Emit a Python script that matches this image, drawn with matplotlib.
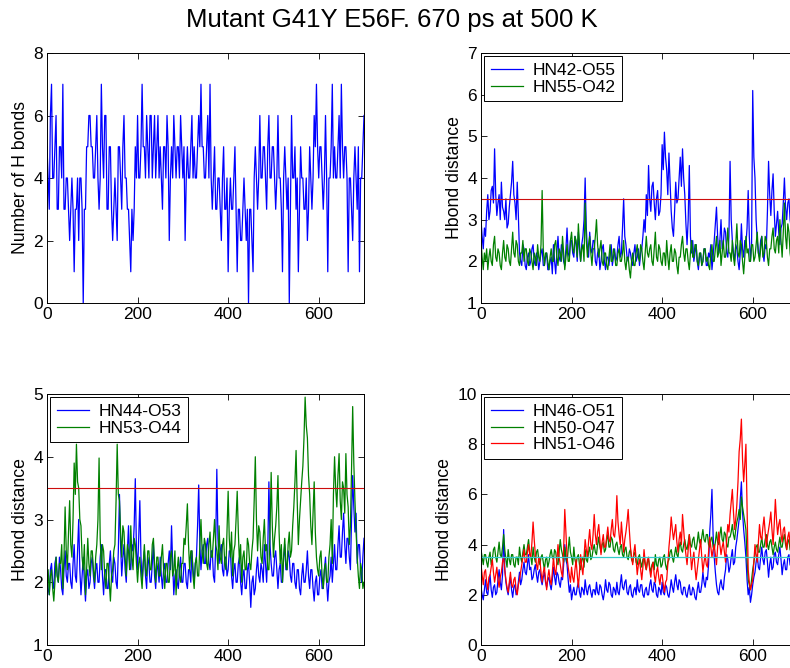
import numpy as np
import matplotlib
matplotlib.use("Agg")
import matplotlib.pyplot as plt

plt.rcParams['font.family'] = ['Liberation Sans', 'DejaVu Sans']

title = "Mutant G41Y E56F. 670 ps at 500 K"
step = 2.5  # ps between sampled values
xticks = [0, 200, 400, 600]

# Number of H bonds
hbonds = [5, 4, 3, 6, 7, 4, 4, 5, 6, 3, 3, 5, 5, 4, 7, 3, 3, 4, 4, 3,
          2, 3, 4, 3, 1, 3, 3, 4, 2, 4, 4, 3, 0, 3, 3, 5, 5, 6, 6, 5,
          5, 4, 4, 5, 6, 4, 3, 4, 7, 5, 4, 6, 6, 3, 3, 5, 5, 3, 2, 3,
          4, 3, 2, 5, 5, 4, 3, 5, 6, 4, 4, 3, 3, 2, 1, 3, 2, 3, 5, 4,
          6, 4, 4, 5, 7, 5, 5, 4, 6, 5, 4, 6, 6, 4, 5, 6, 4, 5, 6, 4,
          5, 4, 3, 5, 5, 4, 6, 5, 2, 4, 5, 4, 6, 5, 4, 5, 5, 4, 6, 5,
          4, 5, 2, 4, 5, 4, 4, 5, 6, 4, 5, 4, 4, 5, 6, 5, 7, 5, 5, 4,
          4, 5, 6, 4, 7, 4, 3, 4, 5, 3, 3, 4, 4, 3, 2, 4, 5, 3, 3, 4,
          1, 3, 4, 3, 3, 4, 5, 3, 1, 3, 3, 2, 2, 3, 4, 3, 2, 3, 0, 3,
          3, 2, 1, 4, 5, 4, 3, 4, 6, 4, 4, 5, 5, 4, 3, 5, 6, 4, 4, 5,
          5, 4, 3, 4, 6, 4, 4, 3, 1, 4, 5, 4, 3, 4, 0, 3, 6, 4, 4, 5,
          3, 4, 1, 3, 5, 4, 4, 3, 3, 4, 2, 3, 5, 4, 3, 4, 6, 5, 7, 5,
          4, 5, 5, 4, 3, 4, 6, 4, 1, 4, 4, 5, 7, 4, 5, 4, 4, 5, 6, 4,
          7, 5, 4, 5, 5, 4, 1, 4, 4, 3, 2, 4, 5, 4, 3, 5, 1, 4, 4, 5,
          6]

hn42_o55 = [3.0, 2.6, 2.3, 2.8, 2.6, 3.2, 3.6, 3.0, 3.2, 3.7, 3.8, 3.4, 4.7, 3.6, 3.1, 3.4, 3.6, 3.0, 3.9, 3.3,
            3.2, 3.0, 3.5, 2.8, 2.9, 3.3, 3.6, 3.9, 4.4, 3.6, 3.4, 3.0, 3.9, 3.1, 2.2, 2.0, 1.9, 2.4, 2.3, 1.9,
            1.8, 2.1, 2.2, 1.9, 2.0, 2.3, 2.4, 2.0, 1.9, 2.2, 2.1, 1.8, 2.0, 2.2, 2.3, 1.9, 1.9, 2.1, 2.2, 1.8,
            1.8, 2.0, 2.1, 1.7, 2.4, 2.0, 1.7, 2.2, 2.6, 2.1, 2.0, 2.4, 2.3, 2.0, 1.9, 2.3, 2.8, 2.2, 2.1, 2.5,
            2.5, 2.2, 2.1, 2.6, 2.4, 2.0, 2.7, 2.3, 2.0, 2.4, 2.6, 3.0, 4.0, 2.8, 2.3, 2.1, 2.7, 2.3, 2.2, 2.5,
            2.5, 2.0, 1.9, 2.2, 2.3, 1.8, 2.0, 2.3, 2.4, 2.0, 1.8, 2.1, 2.1, 1.9, 2.2, 2.4, 1.9, 2.1, 2.3, 2.0,
            2.1, 2.4, 2.6, 2.1, 2.2, 2.8, 3.5, 2.6, 2.4, 2.1, 2.0, 2.3, 2.2, 2.0, 1.9, 2.2, 2.4, 2.0, 2.1, 2.3,
            1.9, 2.2, 2.3, 2.6, 3.0, 2.7, 3.6, 3.1, 4.3, 3.5, 3.2, 3.8, 3.9, 3.4, 3.0, 3.5, 3.7, 3.1, 3.2, 3.6,
            4.8, 4.2, 5.1, 4.5, 4.2, 3.6, 4.6, 3.9, 3.2, 2.8, 2.6, 3.2, 3.9, 3.4, 3.5, 4.0, 4.5, 3.8, 4.7, 4.0,
            3.6, 2.9, 2.4, 3.0, 4.3, 2.6, 2.2, 2.5, 2.0, 2.2, 2.4, 2.0, 1.8, 2.1, 2.2, 1.9, 2.0, 2.3, 2.3, 1.9,
            1.9, 2.2, 2.1, 2.4, 1.8, 2.1, 2.5, 2.9, 3.3, 2.6, 2.2, 2.5, 3.0, 2.3, 2.4, 2.8, 2.7, 2.2, 2.1, 2.6,
            4.4, 3.0, 2.5, 2.2, 2.0, 2.4, 2.3, 2.0, 1.8, 2.2, 2.9, 2.3, 2.1, 2.5, 2.4, 2.8, 3.7, 2.6, 2.0, 2.4,
            6.1, 4.5, 4.0, 3.0, 2.5, 2.2, 2.1, 2.5, 2.6, 2.2, 2.0, 2.4, 2.3, 3.2, 4.4, 3.6, 3.1, 3.7, 4.1, 3.2,
            2.6, 2.9, 3.2, 2.7, 2.4, 2.8, 2.9, 3.4, 4.0, 3.3, 3.0, 3.4, 3.5, 3.0, 2.8, 3.3, 3.9, 3.4, 3.3, 3.8,
            3.6]

hn55_o42 = [2.5, 2.1, 1.8, 2.2, 2.0, 2.3, 1.8, 2.1, 2.3, 2.0, 1.9, 2.4, 2.6, 2.1, 2.0, 2.3, 2.2, 1.9, 1.8, 2.2,
            2.5, 2.1, 2.0, 2.4, 2.3, 2.0, 1.9, 2.3, 2.7, 2.2, 2.1, 2.5, 2.4, 2.0, 1.9, 2.2, 2.2, 2.5, 2.0, 2.3,
            2.3, 2.0, 1.9, 2.3, 2.2, 2.0, 1.8, 2.2, 2.1, 1.9, 2.4, 2.1, 2.0, 2.4, 3.7, 2.3, 1.9, 2.2, 2.2, 2.0,
            1.8, 2.1, 2.3, 2.0, 2.0, 2.4, 2.5, 2.1, 1.9, 2.3, 2.2, 2.0, 2.6, 2.2, 1.8, 2.1, 2.4, 2.0, 2.0, 2.5,
            2.7, 2.3, 2.2, 2.6, 2.5, 2.1, 2.9, 2.4, 2.0, 2.3, 2.4, 2.0, 3.4, 2.5, 2.1, 2.4, 2.6, 2.2, 1.9, 2.3,
            2.3, 2.6, 3.0, 2.4, 2.1, 2.3, 2.5, 2.0, 1.9, 2.2, 2.2, 1.9, 1.8, 2.1, 2.4, 2.0, 2.0, 2.3, 2.2, 1.9,
            1.9, 2.2, 2.3, 2.0, 2.0, 2.2, 2.5, 2.0, 1.8, 2.1, 2.1, 1.8, 1.6, 2.0, 2.2, 1.9, 1.9, 2.2, 2.4, 2.1,
            2.0, 2.4, 2.3, 2.0, 1.8, 2.2, 2.6, 2.2, 2.1, 2.3, 2.4, 2.0, 1.9, 2.3, 2.7, 2.1, 2.0, 2.4, 2.3, 2.0,
            1.9, 2.2, 2.2, 1.9, 2.5, 2.1, 1.8, 2.2, 2.4, 2.0, 2.0, 2.3, 2.2, 1.9, 1.7, 2.1, 2.1, 2.4, 2.6, 2.2,
            2.0, 2.3, 2.3, 2.0, 1.8, 2.2, 2.5, 2.1, 2.1, 2.4, 2.4, 2.0, 1.9, 2.2, 2.2, 1.9, 2.0, 2.3, 2.3, 2.0,
            2.1, 1.9, 1.8, 2.2, 2.4, 2.0, 2.0, 2.3, 2.6, 2.1, 2.2, 2.5, 1.9, 2.2, 2.5, 2.1, 2.1, 2.4, 2.8, 2.2,
            2.2, 2.0, 2.5, 2.1, 1.9, 2.4, 2.9, 2.2, 2.1, 2.5, 2.4, 2.0, 1.7, 2.1, 2.6, 2.2, 2.3, 2.0, 2.0, 2.4,
            2.4, 2.0, 2.1, 2.4, 2.7, 2.2, 2.0, 2.3, 2.6, 2.1, 2.2, 2.6, 2.5, 2.1, 1.9, 2.3, 2.3, 2.6, 2.8, 2.3,
            2.2, 2.5, 2.6, 2.2, 3.0, 2.5, 2.1, 2.7, 3.4, 2.6, 2.3, 2.9, 2.7, 2.2, 2.0, 2.4, 2.5, 2.1, 2.2, 2.6,
            2.4]

hn44_o53 = [2.1, 1.9, 1.8, 2.2, 2.3, 2.0, 1.9, 2.3, 2.4, 2.1, 2.0, 2.4, 2.2, 1.9, 1.8, 2.2, 2.5, 2.1, 2.0, 2.3,
            2.3, 2.0, 1.9, 2.3, 2.6, 2.1, 2.0, 2.5, 3.0, 2.2, 1.8, 2.1, 2.4, 2.0, 1.7, 2.1, 2.2, 1.9, 2.0, 2.3,
            2.4, 2.1, 1.9, 2.2, 2.3, 2.0, 2.0, 2.4, 2.6, 2.1, 1.8, 2.2, 2.2, 1.9, 1.9, 2.3, 2.5, 2.1, 2.0, 2.4,
            2.3, 2.0, 1.9, 2.5, 3.4, 2.6, 2.1, 2.4, 2.6, 2.2, 2.0, 2.5, 2.9, 2.3, 2.2, 2.6, 2.5, 2.9, 3.65, 2.5,
            2.2, 2.7, 3.3, 2.4, 2.0, 2.3, 2.5, 2.1, 1.9, 2.4, 2.3, 2.0, 2.0, 2.3, 2.6, 2.1, 1.9, 2.3, 2.2, 2.0,
            2.4, 2.1, 1.9, 2.2, 2.3, 2.0, 2.0, 2.3, 2.5, 2.2, 2.9, 2.3, 1.8, 2.1, 2.2, 2.0, 1.9, 2.2, 2.4, 2.0,
            2.0, 2.3, 2.3, 2.0, 1.9, 2.2, 2.2, 2.0, 2.5, 2.2, 2.0, 2.3, 2.4, 2.9, 3.55, 2.6, 2.2, 2.5, 2.6, 2.3,
            2.3, 2.6, 2.7, 2.3, 2.2, 2.5, 2.5, 2.1, 2.0, 2.6, 3.8, 2.7, 2.3, 2.5, 2.6, 2.2, 2.1, 2.4, 2.4, 2.1,
            2.2, 2.5, 2.5, 2.1, 1.9, 2.2, 2.3, 2.0, 2.0, 2.3, 2.4, 2.0, 1.8, 2.1, 2.2, 1.9, 1.9, 2.2, 2.3, 2.0,
            1.6, 2.0, 2.1, 1.8, 1.9, 2.2, 2.4, 2.1, 2.0, 2.3, 2.2, 2.0, 2.6, 2.3, 2.0, 2.5, 3.6, 2.6, 2.3, 2.1,
            2.1, 2.4, 2.5, 2.2, 1.9, 2.2, 2.3, 2.0, 2.0, 2.4, 2.6, 2.2, 2.2, 2.5, 2.4, 2.1, 2.0, 2.3, 2.3, 2.0,
            1.9, 2.2, 2.2, 1.9, 1.8, 2.1, 2.3, 2.0, 2.0, 2.2, 2.5, 2.1, 1.9, 2.2, 2.2, 1.9, 1.7, 2.0, 2.1, 1.8,
            1.8, 2.1, 2.2, 1.9, 1.9, 2.2, 2.4, 2.0, 1.7, 2.0, 2.1, 2.4, 2.0, 2.3, 2.6, 2.2, 2.2, 2.6, 2.9, 2.4,
            2.4, 2.8, 3.1, 2.6, 2.3, 2.7, 2.7, 2.4, 2.2, 3.0, 3.7, 3.2, 2.8, 3.1, 2.3, 2.6, 2.6, 2.2, 2.0, 2.4,
            2.7]

hn53_o44 = [2.0, 2.2, 1.8, 2.1, 2.2, 1.9, 1.7, 2.0, 2.4, 2.1, 2.0, 2.3, 2.3, 2.6, 1.9, 2.4, 3.2, 2.5, 2.2, 2.8,
            3.3, 2.6, 2.4, 3.0, 3.9, 3.4, 4.2, 3.6, 3.5, 3.0, 2.9, 2.4, 2.2, 2.6, 1.8, 2.2, 2.7, 2.3, 2.1, 2.5,
            2.5, 2.2, 2.0, 2.4, 2.6, 3.0, 3.98, 2.7, 2.2, 2.6, 2.5, 2.1, 1.9, 2.3, 2.3, 2.0, 1.7, 2.1, 2.2, 2.5,
            2.6, 3.3, 4.2, 3.4, 3.3, 2.8, 2.4, 2.9, 2.8, 2.4, 2.1, 2.6, 2.5, 2.2, 2.9, 2.4, 2.2, 2.7, 2.6, 2.3,
            2.0, 2.3, 2.4, 2.1, 1.9, 2.3, 2.6, 2.2, 2.1, 2.5, 2.5, 2.2, 2.2, 2.6, 2.7, 2.3, 2.0, 2.4, 2.4, 2.1,
            2.1, 2.4, 2.6, 2.2, 1.9, 2.3, 2.3, 2.0, 2.0, 2.4, 2.5, 2.1, 2.2, 2.5, 1.8, 2.2, 2.4, 2.1, 2.0, 2.3,
            2.3, 2.7, 2.6, 2.9, 3.25, 2.6, 2.2, 2.5, 2.5, 2.1, 1.9, 2.3, 2.4, 2.1, 2.1, 2.6, 3.0, 2.5, 2.3, 2.7,
            2.6, 2.3, 2.2, 2.6, 2.8, 2.4, 2.4, 2.7, 3.0, 2.6, 2.5, 2.2, 2.9, 2.4, 2.3, 2.6, 2.7, 2.3, 2.2, 2.8,
            3.45, 2.7, 2.4, 2.8, 2.1, 2.5, 2.6, 3.0, 3.45, 2.8, 2.3, 2.6, 2.0, 2.4, 2.5, 2.2, 2.2, 2.7, 2.6, 2.3,
            2.2, 2.5, 2.7, 3.3, 4.0, 3.0, 2.5, 2.9, 2.8, 2.4, 2.3, 2.7, 3.0, 2.5, 2.6, 2.2, 2.2, 2.8, 3.75, 2.9,
            2.4, 2.7, 2.9, 3.2, 3.7, 2.8, 2.3, 2.6, 2.0, 2.4, 2.7, 2.3, 2.2, 2.6, 2.8, 2.4, 2.5, 2.9, 3.2, 3.6,
            4.1, 3.3, 2.6, 3.0, 3.3, 3.6, 3.85, 4.3, 4.95, 4.5, 4.3, 3.7, 3.4, 2.9, 2.6, 3.1, 3.6, 2.8, 2.4, 2.2,
            2.1, 2.4, 2.5, 2.1, 1.9, 2.2, 2.3, 2.0, 2.0, 2.4, 2.6, 3.0, 2.3, 3.4, 4.0, 3.5, 3.2, 3.7, 4.05, 3.3,
            3.0, 3.6, 3.5, 3.1, 4.05, 3.4, 3.2, 2.6, 2.9, 3.8, 4.8, 3.9, 3.3, 2.8, 2.4, 2.1, 1.9, 2.3, 2.2, 1.9,
            2.0]

hn46_o51 = [2.3, 2.0, 1.8, 2.2, 2.6, 2.1, 2.0, 2.4, 2.8, 2.2, 1.9, 2.3, 2.4, 2.0, 2.1, 2.6, 3.0, 2.5, 2.2, 2.8,
            4.6, 3.0, 2.5, 2.2, 2.0, 2.4, 2.7, 2.2, 1.9, 2.3, 2.4, 2.0, 2.1, 2.5, 2.9, 2.4, 2.6, 3.0, 3.3, 2.9,
            2.8, 3.2, 3.6, 3.0, 3.1, 2.6, 2.7, 3.0, 3.2, 2.8, 2.5, 2.9, 3.0, 2.6, 2.4, 2.7, 2.9, 2.5, 2.3, 2.6,
            2.7, 2.4, 2.2, 2.6, 3.1, 2.7, 2.4, 2.9, 2.8, 2.5, 2.3, 2.7, 2.6, 3.2, 4.0, 3.4, 3.2, 2.6, 2.1, 2.4,
            1.8, 2.1, 2.3, 2.0, 2.0, 2.3, 2.5, 2.1, 1.9, 2.3, 2.2, 2.0, 2.6, 2.2, 2.0, 2.3, 2.4, 2.1, 1.9, 2.2,
            2.2, 2.0, 2.5, 2.1, 2.0, 2.4, 2.3, 2.0, 1.8, 2.1, 2.6, 2.2, 2.1, 2.5, 2.4, 2.0, 1.9, 2.3, 2.2, 2.0,
            2.5, 2.1, 2.0, 2.4, 2.8, 2.3, 2.2, 2.5, 2.6, 2.1, 2.0, 2.3, 2.4, 2.0, 1.9, 2.2, 2.3, 2.0, 2.6, 2.2,
            2.1, 2.4, 2.4, 2.0, 1.9, 2.2, 2.3, 2.0, 2.0, 2.4, 2.6, 2.2, 2.1, 2.5, 2.4, 2.0, 1.9, 2.3, 2.2, 2.0,
            2.5, 2.1, 2.0, 2.4, 2.3, 2.0, 1.9, 2.2, 2.6, 2.3, 2.1, 2.5, 2.8, 2.4, 2.2, 2.6, 2.5, 2.1, 2.0, 2.3,
            2.3, 2.0, 1.9, 2.2, 2.4, 2.0, 2.0, 2.3, 2.2, 1.9, 1.8, 2.2, 2.5, 2.1, 2.1, 2.4, 2.9, 2.5, 2.3, 2.7,
            2.6, 3.2, 4.5, 5.2, 6.2, 4.4, 3.5, 2.9, 2.4, 2.1, 2.0, 2.4, 2.6, 2.3, 2.2, 2.7, 3.0, 3.6, 3.4, 2.9,
            3.1, 3.5, 3.8, 3.2, 3.3, 3.9, 4.2, 4.6, 5.0, 5.8, 6.5, 5.3, 4.6, 4.1, 3.5, 2.6, 2.0, 2.3, 1.7, 2.0,
            2.4, 2.7, 2.9, 3.3, 3.6, 3.1, 3.0, 3.5, 3.9, 3.4, 3.2, 3.7, 3.8, 3.3, 2.7, 3.2, 3.5, 3.0, 3.1, 3.6,
            3.7, 3.3, 3.2, 3.6, 3.9, 3.4, 2.8, 3.2, 3.4, 3.0, 3.0, 3.5, 3.6, 3.2, 3.1, 3.5, 3.8, 3.4, 3.3, 3.7,
            3.5]

hn50_o47 = [3.8, 3.5, 3.2, 3.6, 3.6, 3.3, 3.1, 3.5, 3.7, 3.2, 3.4, 3.8, 3.9, 3.5, 3.3, 3.7, 4.1, 3.6, 3.5, 3.9,
            4.4, 3.8, 3.4, 3.1, 3.8, 3.4, 3.2, 3.6, 3.6, 3.2, 3.1, 3.5, 3.5, 3.2, 3.9, 3.5, 3.3, 3.7, 4.0, 3.6,
            3.6, 3.9, 4.2, 3.7, 3.5, 3.2, 3.9, 3.5, 3.3, 3.7, 3.8, 3.4, 3.2, 3.5, 3.6, 3.3, 3.0, 3.4, 3.5, 3.1,
            3.3, 3.6, 3.8, 3.5, 3.4, 3.8, 3.7, 3.3, 3.2, 3.7, 4.2, 3.8, 3.6, 3.3, 3.9, 3.5, 3.3, 3.8, 4.3, 3.7,
            3.5, 3.2, 3.9, 3.4, 3.2, 3.5, 3.6, 3.2, 3.0, 3.4, 3.5, 3.1, 3.8, 3.4, 3.3, 3.7, 3.9, 3.4, 3.5, 3.8,
            4.0, 3.7, 3.6, 4.0, 4.3, 3.9, 3.7, 4.0, 4.1, 3.7, 3.8, 4.2, 4.4, 3.9, 3.9, 4.3, 4.2, 3.8, 3.7, 4.0,
            4.1, 3.8, 3.6, 3.9, 4.0, 3.6, 3.5, 3.8, 3.9, 3.5, 3.4, 3.7, 3.8, 3.4, 3.3, 3.6, 3.7, 3.3, 3.2, 3.5,
            3.6, 3.3, 3.1, 3.4, 3.5, 3.2, 3.0, 3.3, 3.4, 3.1, 2.9, 3.2, 3.3, 3.0, 3.6, 3.2, 3.1, 3.4, 3.5, 3.1,
            3.2, 3.5, 3.6, 3.2, 3.0, 3.3, 3.4, 3.7, 3.8, 3.5, 3.3, 3.6, 3.9, 3.6, 3.5, 3.9, 4.1, 3.8, 3.7, 4.0,
            4.2, 3.9, 3.8, 4.1, 4.4, 4.0, 3.9, 4.2, 4.3, 3.9, 3.8, 4.1, 4.5, 4.1, 4.0, 4.3, 4.6, 4.2, 4.1, 4.4,
            4.4, 4.0, 3.9, 4.2, 4.3, 3.9, 3.8, 4.1, 4.5, 4.1, 4.0, 4.4, 4.7, 4.2, 4.1, 4.5, 4.4, 4.0, 3.9, 4.3,
            4.3, 4.5, 4.8, 4.4, 4.2, 4.6, 4.9, 5.1, 5.4, 5.0, 5.9, 5.5, 5.2, 4.9, 4.6, 3.4, 2.6, 2.4, 2.2, 2.6,
            3.0, 3.3, 3.6, 3.9, 4.0, 3.7, 3.7, 4.0, 4.3, 3.9, 3.9, 4.2, 4.4, 4.0, 3.8, 4.1, 4.2, 3.9, 3.6, 3.9,
            4.1, 3.8, 3.7, 4.0, 4.3, 3.9, 3.9, 4.2, 4.4, 4.0, 3.8, 4.1, 4.2, 3.8, 3.7, 4.0, 4.0, 3.7, 3.6, 3.9,
            3.9]

hn51_o46 = [3.2, 2.8, 2.4, 2.9, 3.0, 2.5, 2.2, 2.7, 2.8, 3.1, 3.4, 2.9, 2.5, 2.8, 3.1, 2.6, 2.3, 2.7, 2.9, 3.3,
            3.5, 3.0, 2.6, 2.3, 2.1, 2.5, 2.9, 2.4, 2.3, 2.6, 2.7, 2.2, 2.0, 2.4, 2.6, 2.9, 3.2, 3.5, 3.8, 3.3,
            3.3, 3.7, 4.0, 3.6, 3.5, 4.1, 4.9, 4.2, 3.6, 3.2, 3.0, 3.5, 3.4, 2.9, 2.5, 2.9, 3.1, 2.6, 2.2, 2.7,
            3.0, 2.6, 2.4, 2.9, 3.5, 3.0, 2.8, 3.3, 4.0, 3.5, 3.2, 2.9, 2.7, 3.8, 5.4, 4.5, 3.5, 3.1, 2.8, 2.5,
            3.1, 2.7, 2.5, 3.0, 3.4, 2.8, 2.3, 2.9, 3.6, 3.1, 2.8, 3.5, 4.2, 3.8, 3.5, 4.1, 4.6, 4.0, 3.8, 4.4,
            5.2, 4.4, 4.0, 4.5, 4.8, 4.2, 3.6, 4.1, 4.4, 3.9, 3.9, 4.3, 4.7, 4.2, 4.1, 4.6, 5.0, 4.4, 4.3, 4.8,
            5.95, 4.9, 4.4, 4.0, 4.9, 4.3, 3.7, 4.2, 4.5, 4.9, 5.4, 4.6, 3.9, 3.5, 3.2, 3.7, 4.0, 3.4, 2.8, 3.2,
            3.4, 3.0, 2.6, 3.1, 3.8, 3.3, 3.0, 3.4, 3.5, 3.0, 2.7, 3.1, 3.3, 2.8, 2.5, 2.9, 3.1, 2.7, 2.4, 2.8,
            2.8, 2.4, 2.1, 2.5, 2.6, 3.2, 3.9, 4.4, 5.1, 4.6, 4.2, 4.5, 4.8, 4.1, 3.7, 4.2, 4.5, 4.0, 5.2, 4.6,
            4.0, 3.6, 3.2, 3.8, 4.4, 3.7, 3.0, 3.4, 3.7, 3.1, 2.6, 3.0, 3.4, 3.8, 4.2, 3.5, 2.9, 3.3, 3.6, 3.2,
            3.1, 3.7, 4.3, 3.9, 3.5, 3.8, 4.0, 3.6, 3.2, 3.9, 4.5, 4.0, 3.6, 3.9, 4.1, 3.7, 3.3, 4.2, 4.8, 4.5,
            5.2, 5.7, 6.2, 5.3, 4.6, 5.0, 5.6, 6.5, 7.7, 8.2, 9.0, 7.4, 6.5, 7.2, 8.0, 5.5, 3.0, 2.5, 2.2, 2.4,
            2.6, 3.3, 4.0, 3.6, 3.3, 4.1, 4.8, 4.3, 4.2, 4.7, 5.1, 4.5, 3.9, 4.3, 4.6, 4.9, 5.3, 4.6, 4.0, 4.8,
            5.8, 5.0, 4.4, 4.8, 5.0, 4.4, 4.1, 4.6, 4.7, 4.2, 3.8, 4.3, 4.5, 4.0, 3.7, 4.2, 4.3, 3.9, 3.6, 4.1,
            4.0]

cutoff = 3.5

BLUE = (0, 0, 1)
GREEN = (0, 0.5, 0)
RED = (1, 0, 0)
CUT_RED = (0.8, 0.05, 0.05)
CUT_CYAN = (0.2, 0.8, 0.8)
LW = 0.9

fig = plt.figure(figsize=(7.90, 6.68), dpi=100)
W, H = 790, 668


def add_ax(left, top, w, h):
    return fig.add_axes([left / W, 1 - (top + h) / H, w / W, h / H])


def style(ax, ylim, yticks, ylabel=None):
    ax.set_xlim(0, 700)
    ax.set_ylim(*ylim)
    ax.set_xticks(xticks)
    ax.set_yticks(yticks)
    ax.tick_params(direction='in', top=True, right=True, labelsize=12.5,
                   length=4, width=0.6, pad=3)
    for s in ax.spines.values():
        s.set_linewidth(0.7)
    if ylabel:
        ax.set_ylabel(ylabel, fontsize=12.7, labelpad=3)


def xs(series):
    return np.arange(len(series)) * step


ax1 = add_ax(47, 53, 317, 250)
ax1.plot(xs(hbonds), hbonds, color=BLUE, lw=LW)
style(ax1, (0, 8), [0, 2, 4, 6, 8], "Number of H bonds")

ax2 = add_ax(481, 53, 317, 250)
ax2.plot(xs(hn42_o55), hn42_o55, color=BLUE, lw=LW, label="HN42-O55")
ax2.plot(xs(hn55_o42), hn55_o42, color=GREEN, lw=LW, label="HN55-O42")
ax2.axhline(cutoff, color=CUT_RED, lw=0.8)
style(ax2, (1, 7), [1, 2, 3, 4, 5, 6, 7], "Hbond distance")

ax3 = add_ax(47, 394, 317, 251)
ax3.plot(xs(hn44_o53), hn44_o53, color=BLUE, lw=LW, label="HN44-O53")
ax3.plot(xs(hn53_o44), hn53_o44, color=GREEN, lw=LW, label="HN53-O44")
ax3.axhline(cutoff, color=CUT_RED, lw=0.8)
style(ax3, (1, 5), [1, 2, 3, 4, 5], "Hbond distance")

ax4 = add_ax(481, 394, 317, 251)
ax4.plot(xs(hn46_o51), hn46_o51, color=BLUE, lw=LW, label="HN46-O51")
ax4.plot(xs(hn50_o47), hn50_o47, color=GREEN, lw=LW, label="HN50-O47")
ax4.plot(xs(hn51_o46), hn51_o46, color=RED, lw=LW, label="HN51-O46")
ax4.axhline(cutoff, color=CUT_CYAN, lw=0.9)
style(ax4, (0, 10), [0, 2, 4, 6, 8, 10], "Hbond distance")

for ax in (ax2, ax3, ax4):
    leg = ax.legend(loc='upper left', fontsize=12.5, frameon=True, fancybox=False,
                    edgecolor='black', framealpha=1, borderaxespad=0.2,
                    handlelength=1.85, handletextpad=0.6, borderpad=0.35,
                    labelspacing=0.1)
    leg.get_frame().set_linewidth(0.7)
    for l in leg.get_lines():
        l.set_linewidth(0.9)

fig.text(392 / W, 1 - 20 / H, title, ha='center', va='center', fontsize=18.5)

fig.savefig("out.png", dpi=100)
